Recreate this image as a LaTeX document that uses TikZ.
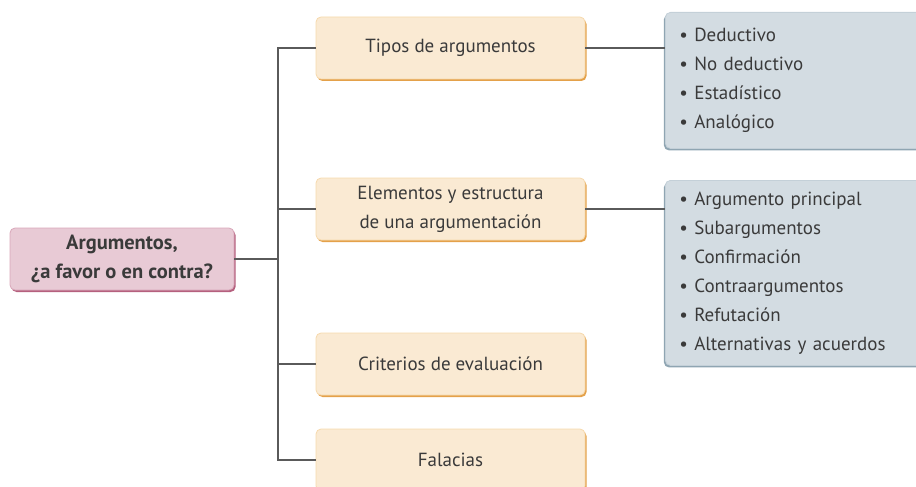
\documentclass[tikz,border=0pt]{standalone}
\usepackage{fontspec}
\setmainfont{PT Sans}
\usetikzlibrary{shadows}

\definecolor{rosa}{HTML}{E8CAD5}
\definecolor{rosaborde}{HTML}{D9A7B9}
\definecolor{rosasombra}{HTML}{B5607E}
\definecolor{crema}{HTML}{FAEAD3}
\definecolor{cremaborde}{HTML}{F6D9AC}
\definecolor{cremasombra}{HTML}{E4A14A}
\definecolor{gris}{HTML}{D3DCE2}
\definecolor{grisborde}{HTML}{C4D0D8}
\definecolor{grissombra}{HTML}{8FA5B2}
\definecolor{linea}{HTML}{5A5A5A}
\definecolor{texto}{HTML}{3A3A3A}

\begin{document}
\begin{tikzpicture}[x=1pt, y=-1pt,
        every node/.style={font=\fontsize{19}{29}\selectfont, text=texto},
        raiz/.style={draw=rosaborde, fill=rosa, rounded corners=5pt, line width=0.8pt,
            minimum width=224pt, minimum height=62pt, align=center, font=\fontsize{20.5}{29}\selectfont\bfseries,
            drop shadow={shadow xshift=1.5pt, shadow yshift=-2pt, fill=rosasombra, opacity=1}},
        tema/.style={draw=cremaborde, fill=crema, rounded corners=5pt, line width=0.8pt,
            minimum width=269pt, minimum height=62pt, align=center,
            drop shadow={shadow xshift=1.5pt, shadow yshift=-2pt, fill=cremasombra, opacity=1}},
        lista/.style={draw=grisborde, fill=gris, rounded corners=5pt, line width=0.8pt, anchor=north west,
            minimum width=262pt, align=left, text width=234pt, inner xsep=14pt,
            drop shadow={shadow xshift=-1.5pt, shadow yshift=-2pt, fill=grissombra, opacity=1}},
        rama/.style={draw=linea, line width=1.6pt}
      ]
      \useasboundingbox (0,0) rectangle (916,487);

      % nodo central
      \node[raiz] (raiz) at (122,259) {Argumentos,\\¿a favor o en contra?};

      % temas
      \node[tema] (tipos) at (450.5,48) {Tipos de argumentos};
      \node[tema] (elem) at (450.5,209) {Elementos y estructura\\de una argumentación};
      \node[tema] (crit) at (450.5,364) {Criterios de evaluación};
      \node[tema] (fal) at (450.5,460) {Falacias};

      % listas
      \node[lista, minimum height=136pt] (tiposlista) at (665,12)
          {\textbullet\ Deductivo\\\textbullet\ No deductivo\\\textbullet\ Estadístico\\\textbullet\ Analógico};
      \node[lista, minimum height=185pt] (elemlista) at (665,180)
          {\textbullet\ Argumento principal\\\textbullet\ Subargumentos\\\textbullet\ Confirmación\\
           \textbullet\ Contraargumentos\\\textbullet\ Refutación\\\textbullet\ Alternativas y acuerdos};

      % conectores
      \coordinate (tronco) at (278,259);
      \draw[rama] (raiz.east) -- (tronco);
      \draw[rama] (tipos.west) -- (tipos.west -| tronco) -- (fal.west -| tronco) -- (fal.west);
      \draw[rama] (elem.west) -- (elem.west -| tronco);
      \draw[rama] (crit.west) -- (crit.west -| tronco);
      \draw[rama] (tipos.east) -- (tipos.east -| tiposlista.west);
      \draw[rama] (elem.east) -- (elem.east -| elemlista.west);

      \end{tikzpicture}
\end{document}
